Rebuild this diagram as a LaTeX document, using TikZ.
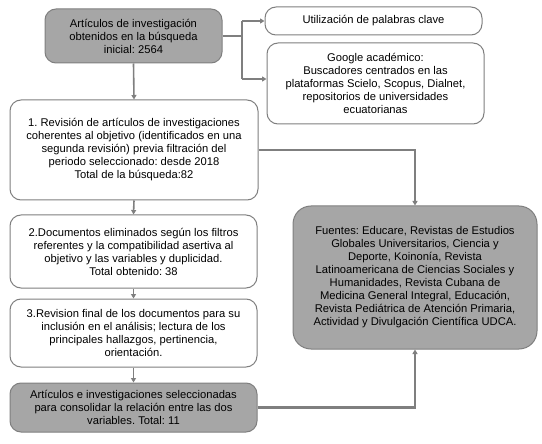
\documentclass[tikz,border=0pt]{standalone}
\usepackage{fontspec}
\setmainfont{Liberation Sans}
\usetikzlibrary{arrows.meta}
\definecolor{boxgray}{HTML}{A6A6A6}
\definecolor{edgegray}{HTML}{7F7F7F}
\frenchspacing
\begin{document}
\begin{tikzpicture}[x=1pt,y=-1pt,
  box/.style={draw=edgegray,line width=1pt,rounded corners=11pt,fill=white,
    align=center,inner sep=0pt,font=\fontsize{11.2}{13}\selectfont\frenchspacing,text=black},
  graybox/.style={box,fill=boxgray},
  conn/.style={draw=edgegray,line width=1.6pt,-{Triangle[width=5pt,length=4.5pt]}},
  line/.style={draw=edgegray,line width=1.6pt}]
\useasboundingbox (0,0) rectangle (542,444);
\node[graybox,minimum width=177pt,minimum height=54pt] (A) at (133.5,36)
  {Artículos de investigación\\obtenidos en la búsqueda\\inicial: 2564};
\node[box,minimum width=217pt,minimum height=28pt] (U) at (373.5,21)
  {Utilización de palabras clave};
\node[box,minimum width=217pt,minimum height=81pt] (G) at (375.5,83.5)
  {Google académico:\\Buscadores centrados en las\\plataformas Scielo, Scopus, Dialnet,\\repositorios de universidades\\ecuatorianas};
\node[box,minimum width=248pt,minimum height=100pt] (B1) at (134,150)
  {1. Revisión de artículos de investigaciones\\coherentes al objetivo (identificados en una\\segunda revisión) previa filtración del\\periodo seleccionado: desde 2018\\Total de la búsqueda:82};
\node[box,minimum width=247pt,minimum height=73pt] (B2) at (133.5,251.5)
  {2.Documentos eliminados según los filtros\\referentes y la compatibilidad asertiva al\\objetivo y las variables y duplicidad.\\Total obtenido: 38};
\node[box,minimum width=247pt,minimum height=68pt] (B3) at (133.5,333)
  {3.Revision final de los documentos para su\\inclusión en el análisis; lectura de los\\principales hallazgos, pertinencia,\\orientación.};
\node[graybox,minimum width=247pt,minimum height=49pt] (B4) at (133.5,407.5)
  {Artículos e investigaciones seleccionadas\\para consolidar la relación entre las dos\\variables. Total: 11};
\node[graybox,rounded corners=18pt,minimum width=244pt,minimum height=143pt] (F) at (415,277.5)
  {Fuentes: Educare, Revistas de Estudios\\Globales Universitarios, Ciencia y\\Deporte, Koinonía, Revista\\Latinoamericana de Ciencias Sociales y\\Humanidades, Revista Cubana de\\Medicina General Integral, Educación,\\Revista Pediátrica de Atención Primaria,\\Actividad y Divulgación Científica UDCA.};
\coordinate (J) at (242,36);
\coordinate (J1) at (242,21);
\coordinate (J2) at (242,79);
\coordinate (GW) at (G.west |- J2);
\draw[conn] (A.south) -- (B1.north);
\draw[conn] (B1.south) -- (B2.north);
\draw[conn] (B2.south) -- (B3.north);
\draw[conn] (B3.south) -- (B4.north);
\draw[line] (A.east) -- (J);
\draw[line] (J1) -- (J2);
\draw[conn] (J1) -- (U.west);
\draw[conn] (J2) -- (GW);
\draw[conn] (B1.east) -| (F.north);
\draw[conn,line width=2.4pt] (B4.east) -| (F.south);
\end{tikzpicture}
\end{document}
